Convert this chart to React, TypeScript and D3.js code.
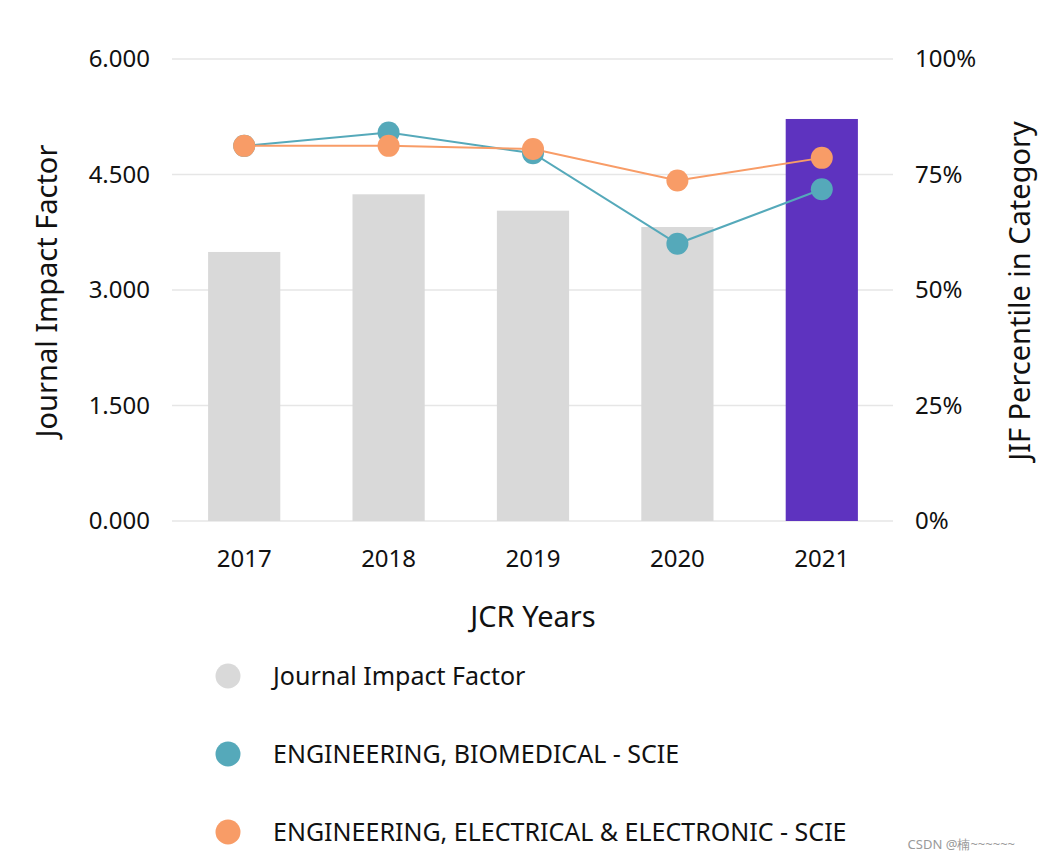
import React from "react";
import * as d3 from "d3";

const years = ["2017", "2018", "2019", "2020", "2021"];
const impactFactor = [3.494, 4.243, 4.03, 3.818, 5.221];
const biomedicalPct = [81.2, 84.1, 79.6, 60.0, 71.8];
const electricalPct = [81.2, 81.2, 80.5, 73.7, 78.6];
const leftTicks = [0, 1.5, 3, 4.5, 6];
const rightTicks = [0, 25, 50, 75, 100];
const legendItems = [
  { label: "Journal Impact Factor", color: "#d9d9d9" },
  { label: "ENGINEERING, BIOMEDICAL - SCIE", color: "#55a9ba" },
  { label: "ENGINEERING, ELECTRICAL & ELECTRONIC - SCIE", color: "#f89c67" },
];

const W = 1041;
const H = 861;
const FONT = "'Noto Sans', sans-serif";

export default function App() {
  const x = d3.scaleBand<string>().domain(years).range([172, 894]).paddingInner(0.5).paddingOuter(0.25);
  const yL = d3.scaleLinear().domain([0, 6]).range([521, 59]);
  const yR = d3.scaleLinear().domain([0, 100]).range([521, 59]);
  const cx = (d: string) => (x(d) as number) + x.bandwidth() / 2;
  const line = d3
    .line<number>()
    .x((_, i) => cx(years[i]))
    .y((v) => yR(v));
  const series = [
    { values: biomedicalPct, color: legendItems[1].color },
    { values: electricalPct, color: legendItems[2].color },
  ];
  const last = years.length - 1;
  return (
    <div style={{ position: "absolute", left: 0, top: 0 }}>
      <svg width={W} height={H} style={{ display: "block", fontFamily: FONT }}>
        <rect width={W} height={H} fill="#fff" />
        {leftTicks.map((t) => (
          <line key={t} x1={172} x2={893} y1={yL(t)} y2={yL(t)} stroke="#e6e6e6" strokeWidth={1.5} />
        ))}
        {years.map((yr, i) => (
          <rect
            key={yr}
            x={x(yr)}
            width={x.bandwidth()}
            y={yL(impactFactor[i])}
            height={yL(0) - yL(impactFactor[i])}
            fill={i === last ? "#5e33bf" : "#d9d9d9"}
          />
        ))}
        {series.map((s, si) => (
          <g key={si}>
            <path d={line(s.values) || ""} fill="none" stroke={s.color} strokeWidth={2} />
          </g>
        ))}
        {series.map((s, si) => (
          <g key={"d" + si}>
            {s.values.map((v, i) => (
              <circle key={i} cx={cx(years[i])} cy={yR(v)} r={11} fill={s.color} />
            ))}
          </g>
        ))}
        {leftTicks.map((t) => (
          <text key={t} x={150} y={yL(t)} dy="0.35em" textAnchor="end" fontSize={24} fill="#111">
            {d3.format(".3f")(t)}
          </text>
        ))}
        {rightTicks.map((t) => (
          <text key={t} x={915} y={yR(t)} dy="0.35em" textAnchor="start" fontSize={24} fill="#111">
            {t + "%"}
          </text>
        ))}
        {years.map((yr) => (
          <text key={yr} x={cx(yr)} y={559} dy="0.35em" textAnchor="middle" fontSize={24} fill="#111">
            {yr}
          </text>
        ))}
        <text x={533} y={627} textAnchor="middle" fontSize={29} fill="#111">
          JCR Years
        </text>
        <text transform="translate(57,291) rotate(-90)" textAnchor="middle" fontSize={29} fill="#111">
          Journal Impact Factor
        </text>
        <text transform="translate(1030,291) rotate(-90)" textAnchor="middle" fontSize={29} fill="#111">
          JIF Percentile in Category
        </text>
        {legendItems.map((it, i) => (
          <g key={it.label} transform={`translate(0,${676 + i * 78})`}>
            <circle cx={228} cy={0} r={12.5} fill={it.color} />
            <text x={273} y={0} dy="0.35em" fontSize={25} fill="#111">
              {it.label}
            </text>
          </g>
        ))}
        <text x={1015} y={849} textAnchor="end" fontSize={13} fill="#999">
          CSDN @楠~~~~~~
        </text>
      </svg>
    </div>
  );
}
